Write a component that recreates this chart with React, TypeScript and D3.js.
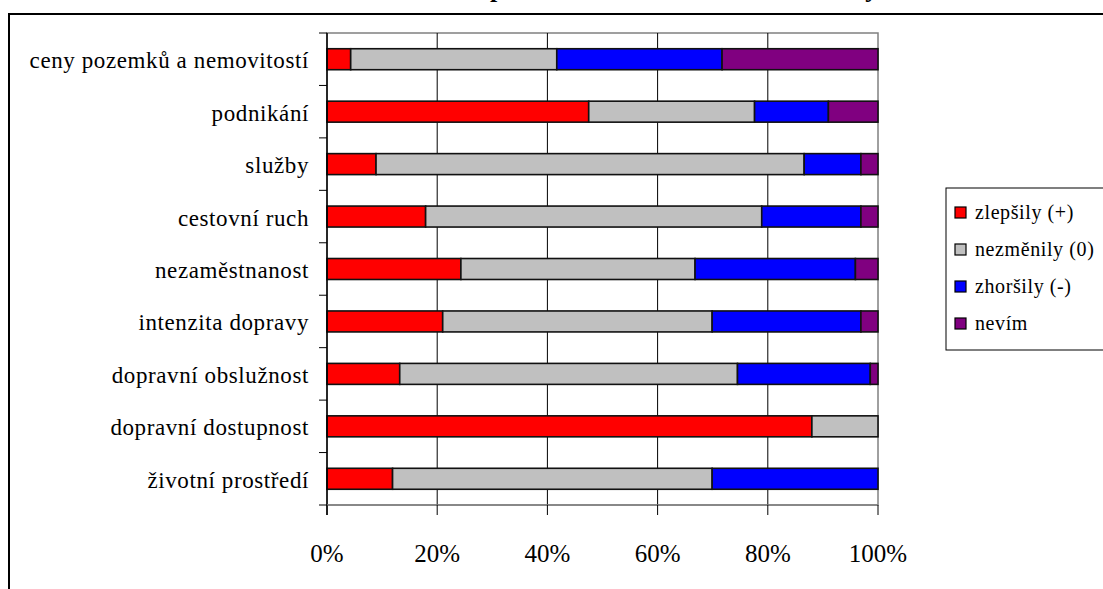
import React, { useEffect, useRef } from "react";
import * as d3 from "d3";

// Survey categories, listed top to bottom
const categories = [
  "ceny pozemků a nemovitostí",
  "podnikání",
  "služby",
  "cestovní ruch",
  "nezaměstnanost",
  "intenzita dopravy",
  "dopravní obslužnost",
  "dopravní dostupnost",
  "životní prostředí",
];

// Share of answers per category (%)
const zlepsily = [4.3, 47.5, 8.9, 17.9, 24.3, 21.0, 13.2, 88.0, 11.9];
const nezmenily = [37.4, 30.1, 77.7, 61.0, 42.5, 48.9, 61.3, 12.0, 58.0];
const zhorsily = [30.0, 13.4, 10.3, 18.0, 29.1, 27.0, 24.1, 0, 30.1];
const nevim = [28.3, 9.0, 3.1, 3.1, 4.1, 3.1, 1.4, 0, 0];

const seriesNames = ["zlepšily (+)", "nezměnily (0)", "zhoršily (-)", "nevím"];
const seriesColors = ["#FF0000", "#C0C0C0", "#0000FF", "#800080"];
const xTicks = [0, 0.2, 0.4, 0.6, 0.8, 1.0];
const title = "Jak se podle Vás v obci během let změnily oblasti?";

const FONT = "'Liberation Serif', 'Times New Roman', serif";

export default function App() {
  const ref = useRef<SVGSVGElement>(null);

  useEffect(() => {
    const svg = d3.select(ref.current);
    svg.selectAll("*").remove();

    const W = 1103;
    const H = 589;
    const plot = { left: 327, right: 878, top: 33, bottom: 505 };

    svg.append("rect").attr("width", W).attr("height", H).attr("fill", "#fff");

    // Chart title (sits at the top edge)
    svg
      .append("text")
      .attr("x", 415)
      .attr("y", -3)
      .attr("font-family", FONT)
      .attr("font-weight", "bold")
      .attr("font-size", 26)
      .text(title);

    // Outer chart frame
    svg
      .append("rect")
      .attr("x", 9)
      .attr("y", 14)
      .attr("width", 1200)
      .attr("height", 700)
      .attr("fill", "none")
      .attr("stroke", "#000")
      .attr("stroke-width", 2);

    const x = d3.scaleLinear().domain([0, 1]).range([plot.left, plot.right]);
    const y = d3
      .scaleBand<string>()
      .domain(categories)
      .range([plot.top, plot.bottom])
      .paddingInner(0.6)
      .paddingOuter(0.3);
    const step = y.step();

    // Plot area border
    svg
      .append("rect")
      .attr("x", plot.left)
      .attr("y", plot.top)
      .attr("width", plot.right - plot.left)
      .attr("height", plot.bottom - plot.top)
      .attr("fill", "none")
      .attr("stroke", "#808080")
      .attr("stroke-width", 1.5);

    // Vertical gridlines
    svg
      .append("g")
      .selectAll("line")
      .data(xTicks.slice(1, -1))
      .join("line")
      .attr("x1", (d) => x(d))
      .attr("x2", (d) => x(d))
      .attr("y1", plot.top)
      .attr("y2", plot.bottom)
      .attr("stroke", "#000")
      .attr("stroke-width", 1);

    // Stacked bars
    const rows = categories.map((c, i) => {
      const vals = [zlepsily[i], nezmenily[i], zhorsily[i], nevim[i]];
      const total = d3.sum(vals);
      return { cat: c, s0: vals[0] / total, s1: vals[1] / total, s2: vals[2] / total, s3: vals[3] / total };
    });
    const keys = ["s0", "s1", "s2", "s3"];
    const stacked = d3.stack<any>().keys(keys)(rows);

    stacked.forEach((layer, li) => {
      svg
        .append("g")
        .selectAll("rect")
        .data(layer.filter((d) => d[1] - d[0] > 0))
        .join("rect")
        .attr("x", (d) => x(d[0]))
        .attr("y", (d) => y(d.data.cat)!)
        .attr("width", (d) => x(d[1]) - x(d[0]))
        .attr("height", y.bandwidth())
        .attr("fill", seriesColors[li])
        .attr("stroke", "#111")
        .attr("stroke-width", 1.6);
    });

    // Category axis
    const yAxis = svg.append("g");
    yAxis
      .append("line")
      .attr("x1", plot.left)
      .attr("x2", plot.left)
      .attr("y1", plot.top)
      .attr("y2", plot.bottom + 10)
      .attr("stroke", "#000")
      .attr("stroke-width", 1.5);
    yAxis
      .selectAll("line.tick")
      .data(d3.range(categories.length + 1))
      .join("line")
      .attr("class", "tick")
      .attr("x1", plot.left - 8)
      .attr("x2", plot.left)
      .attr("y1", (i) => plot.top + i * step)
      .attr("y2", (i) => plot.top + i * step)
      .attr("stroke", "#000")
      .attr("stroke-width", 1);
    yAxis
      .selectAll("text")
      .data(categories)
      .join("text")
      .attr("x", 309)
      .attr("y", (d) => y(d)! + y.bandwidth() / 2 + 9)
      .attr("text-anchor", "end")
      .attr("font-family", FONT)
      .attr("font-size", 23)
      .attr("letter-spacing", 0.6)
      .text((d) => d);

    // Value axis
    const xAxis = svg.append("g");
    xAxis
      .append("line")
      .attr("x1", plot.left)
      .attr("x2", plot.right)
      .attr("y1", plot.bottom)
      .attr("y2", plot.bottom)
      .attr("stroke", "#808080")
      .attr("stroke-width", 1.5);
    xAxis
      .selectAll("line.tick")
      .data(xTicks)
      .join("line")
      .attr("class", "tick")
      .attr("x1", (d) => x(d))
      .attr("x2", (d) => x(d))
      .attr("y1", plot.bottom)
      .attr("y2", plot.bottom + 10)
      .attr("stroke", "#000")
      .attr("stroke-width", 1);
    xAxis
      .selectAll("text")
      .data(xTicks)
      .join("text")
      .attr("x", (d) => x(d))
      .attr("y", 562)
      .attr("text-anchor", "middle")
      .attr("font-family", FONT)
      .attr("font-size", 25)
      .text((d) => d3.format(".0%")(d));

    // Legend
    const lg = svg.append("g");
    lg.append("rect")
      .attr("x", 946)
      .attr("y", 188)
      .attr("width", 200)
      .attr("height", 162)
      .attr("fill", "#fff")
      .attr("stroke", "#000")
      .attr("stroke-width", 1);
    seriesNames.forEach((name, i) => {
      const cy = 213 + i * 37;
      lg.append("rect")
        .attr("x", 955)
        .attr("y", cy - 6)
        .attr("width", 11)
        .attr("height", 11)
        .attr("fill", seriesColors[i])
        .attr("stroke", "#000")
        .attr("stroke-width", 1.2);
      lg.append("text")
        .attr("x", 975)
        .attr("y", cy + 6)
        .attr("font-family", FONT)
        .attr("font-size", 20)
        .attr("letter-spacing", 0.6)
        .text(name);
    });
  }, []);

  return (
    <svg
      ref={ref}
      width={1103}
      height={589}
      style={{ position: "absolute", left: 0, top: 0, display: "block" }}
    />
  );
}
